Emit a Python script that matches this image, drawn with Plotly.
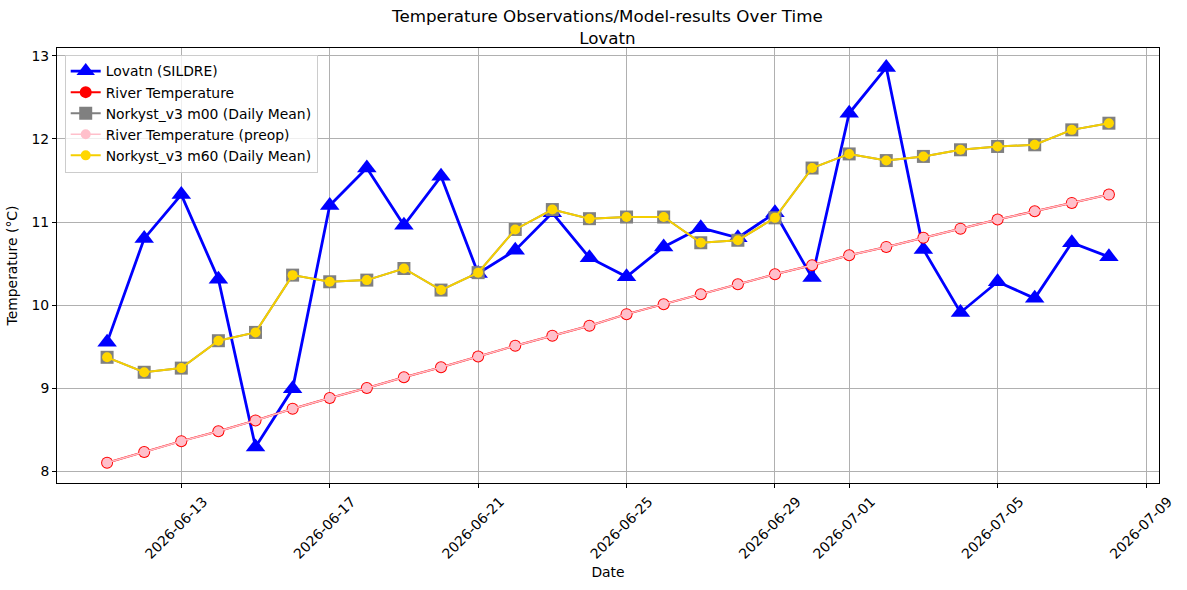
import plotly.graph_objects as go
import pandas as pd

dates = pd.date_range("2026-06-11", "2026-07-08", freq="D")

lovatn = [9.55, 10.80, 11.33, 10.31, 8.29, 8.99, 11.20, 11.65, 10.96, 11.55,
          10.38, 10.66, 11.11, 10.57, 10.34, 10.70, 10.93, 10.81, 11.11, 10.33,
          12.31, 12.86, 10.67, 9.91, 10.28, 10.08, 10.75, 10.58]

river = [8.10, 8.23, 8.36, 8.48, 8.61, 8.75, 8.88, 9.00, 9.13, 9.25,
         9.38, 9.51, 9.63, 9.75, 9.89, 10.01, 10.13, 10.25, 10.37, 10.48,
         10.60, 10.70, 10.81, 10.92, 11.03, 11.13, 11.23, 11.33]

river_preop = list(river)

norkyst_m00 = [9.37, 9.19, 9.24, 9.57, 9.67, 10.36, 10.28, 10.30, 10.44, 10.18,
               10.39, 10.91, 11.15, 11.04, 11.06, 11.06, 10.75, 10.78, 11.05, 11.65,
               11.82, 11.74, 11.79, 11.87, 11.91, 11.93, 12.11, 12.19]

norkyst_m60 = list(norkyst_m00)

tick_dates = ["2026-06-13", "2026-06-17", "2026-06-21", "2026-06-25",
              "2026-06-29", "2026-07-01", "2026-07-05", "2026-07-09"]

fig = go.Figure()
fig.add_trace(go.Scatter(x=dates, y=lovatn, name="Lovatn (SILDRE)", mode="lines+markers",
                         line=dict(color="blue", width=2.8),
                         marker=dict(symbol="triangle-up", size=17, color="blue")))
fig.add_trace(go.Scatter(x=dates, y=river, name="River Temperature", mode="lines+markers",
                         line=dict(color="red", width=2),
                         marker=dict(symbol="circle", size=12, color="red")))
fig.add_trace(go.Scatter(x=dates, y=norkyst_m00, name="Norkyst_v3 m00 (Daily Mean)", mode="lines+markers",
                         line=dict(color="gray", width=2),
                         marker=dict(symbol="square", size=13, color="gray")))
fig.add_trace(go.Scatter(x=dates, y=river_preop, name="River Temperature (preop)", mode="lines+markers",
                         line=dict(color="pink", width=1.5),
                         marker=dict(symbol="circle", size=10, color="pink")))
fig.add_trace(go.Scatter(x=dates, y=norkyst_m60, name="Norkyst_v3 m60 (Daily Mean)", mode="lines+markers",
                         line=dict(color="#f5cf00", width=2),
                         marker=dict(symbol="circle", size=10, color="gold")))

font = "DejaVu Sans, Liberation Sans, sans-serif"
axis_common = dict(showline=True, linecolor="black", linewidth=1, mirror=True,
                   ticks="outside", ticklen=4, tickcolor="black",
                   showgrid=True, gridcolor="#b0b0b0", gridwidth=1, zeroline=False,
                   tickfont=dict(size=13.9, color="black"))

fig.update_layout(
    width=1187, height=590,
    paper_bgcolor="white", plot_bgcolor="white",
    font=dict(family=font, color="black"),
    margin=dict(l=57, r=24, t=48, b=106),
    title=dict(text="Temperature Observations/Model-results Over Time<br>Lovatn",
               x=0.5117, xanchor="center", yref="container", y=0.962, yanchor="top",
               font=dict(size=16.7)),
    legend=dict(x=0.007, y=0.985, xanchor="left", yanchor="top",
                bgcolor="rgba(255,255,255,0.8)", bordercolor="#cccccc", borderwidth=1,
                font=dict(size=13.9), tracegroupgap=0, itemwidth=30),
    showlegend=True,
)
fig.update_xaxes(**axis_common, type="date",
                 range=["2026-06-09 15:36", "2026-07-09 08:24"],
                 tickvals=tick_dates, ticktext=tick_dates, tickangle=-45,
                 ticklabelshift=22,
                 title=dict(text="Date", font=dict(size=13.9), standoff=6))
fig.update_yaxes(**axis_common, range=[7.856, 13.096],
                 tickvals=[8, 9, 10, 11, 12, 13],
                 title=dict(text="Temperature (°C)", font=dict(size=13.9), standoff=10))

fig.write_html("out.html")
